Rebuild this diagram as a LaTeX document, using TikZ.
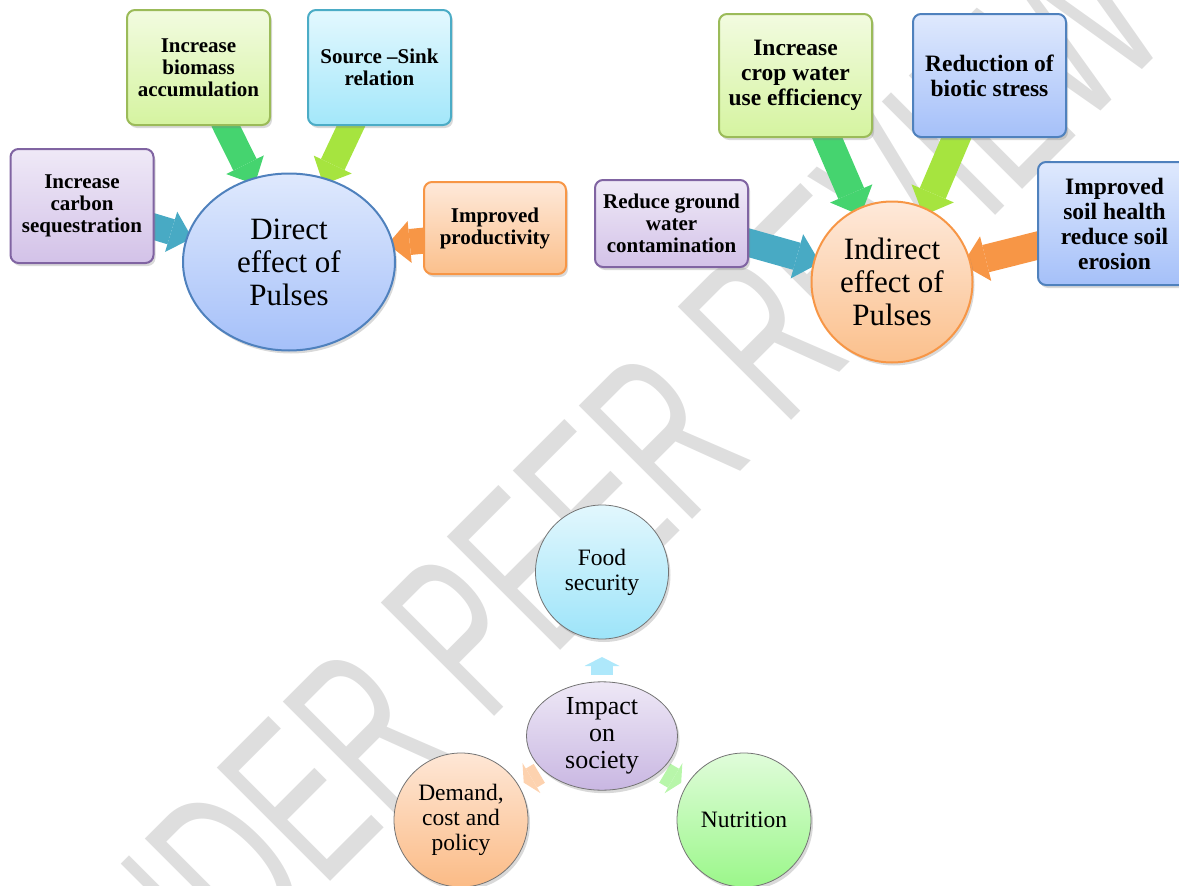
\documentclass[tikz,border=0pt]{standalone}
\usepackage{fontspec}
\setmainfont{Liberation Serif}
\newfontfamily\markfont{Liberation Sans}
\usetikzlibrary{arrows.meta,shapes.geometric,shadows,positioning}
\pgfdeclarelayer{bg}
\pgfsetlayers{bg,main}
\definecolor{purpleline}{HTML}{8064A2}\definecolor{purpletop}{HTML}{EFE9F7}\definecolor{purplebot}{HTML}{D3C2E8}
\definecolor{greenline}{HTML}{9BBB59}\definecolor{greentop}{HTML}{F2FBE0}\definecolor{greenbot}{HTML}{D5F4A0}
\definecolor{cyanline}{HTML}{4BACC6}\definecolor{cyantop}{HTML}{E3F8FE}\definecolor{cyanbot}{HTML}{A3E7FA}
\definecolor{orangeline}{HTML}{F79646}\definecolor{orangetop}{HTML}{FEE9DA}\definecolor{orangebot}{HTML}{FBC08C}
\definecolor{blueline}{HTML}{4F81BD}\definecolor{bluetop}{HTML}{DFE9FD}\definecolor{bluebot}{HTML}{A5C0F9}
\definecolor{arrgreen}{HTML}{45D46F}\definecolor{arrlime}{HTML}{A6E43F}
\definecolor{arrteal}{HTML}{48AAC4}\definecolor{arrorange}{HTML}{F79646}
\definecolor{foodtop}{HTML}{E2F7FD}\definecolor{foodbot}{HTML}{9DE4F9}
\definecolor{impacttop}{HTML}{EEE8F6}\definecolor{impactbot}{HTML}{C9B7E2}
\definecolor{demandtop}{HTML}{FEE7D6}\definecolor{demandbot}{HTML}{FBBB86}
\definecolor{nutrtop}{HTML}{E0FCDA}\definecolor{nutrbot}{HTML}{9BF78A}
\definecolor{upcyan}{HTML}{AEE8FB}\definecolor{peach}{HTML}{FDD2AF}\definecolor{mint}{HTML}{B8F6AA}

\begin{document}
\begin{tikzpicture}[x=1pt,y=-1pt,
  shade/.style={drop shadow={opacity=0.3,shadow xshift=2pt,shadow yshift=-3pt}},
  box/.style={shade,draw,line width=2pt,rounded corners=8pt,align=center,inner sep=2pt,
    minimum width=143pt,minimum height=115pt,font=\bfseries\fontsize{21}{22}\selectfont},
  bigbox/.style={box,minimum width=153pt,minimum height=123pt,font=\bfseries\fontsize{23.5}{25}\selectfont},
  pulse/.style={shade,ellipse,draw,line width=2pt,align=center,inner sep=0pt,font=\fontsize{31}{33}\selectfont},
  ring/.style={shade,ellipse,draw=black!55,line width=0.8pt,align=center,inner sep=0pt,
    minimum width=134pt,minimum height=134pt,font=\fontsize{23.5}{25}\selectfont},
  blk/.style={line width=26pt,shorten <=-6pt,-{Triangle[width=42pt,length=22pt,line width=0pt]}},
  bigblk/.style={line width=28pt,shorten <=-6pt,-{Triangle[width=46pt,length=24pt,line width=0pt]}},
  tiny/.style={line width=22pt,-{Triangle[width=35pt,length=9pt,line width=0pt]}}]
\useasboundingbox (0,0) rectangle (1179,886);

\node [box,draw=purpleline,top color=purpletop,bottom color=purplebot,minimum height=114pt] (carbon) at (82,206) {Increase\\carbon\\sequestration};
\node [box,draw=greenline,top color=greentop,bottom color=greenbot] (biomass) at (198.5,67.5) {Increase\\biomass\\accumulation};
\node [box,draw=cyanline,top color=cyantop,bottom color=cyanbot] (sink) at (379.5,67.5) {Source --Sink\\relation};
\node [box,draw=orangeline,top color=orangetop,bottom color=orangebot,minimum height=92pt,minimum width=142pt] (prod) at (495,228) {Improved\\productivity};
\node [pulse,draw=blueline,top color=bluetop,bottom color=bluebot,minimum width=212pt,minimum height=177pt] (direct) at (289,262) {Direct\\effect of\\Pulses};

\node [box,draw=purpleline,top color=purpletop,bottom color=purplebot,minimum width=153pt,minimum height=87pt] (ground) at (671.5,223.5) {Reduce ground\\water\\contamination};
\node [bigbox,draw=greenline,top color=greentop,bottom color=greenbot] (cropwater) at (795.5,75.5) {Increase\\crop water\\use efficiency};
\node [bigbox,draw=blueline,top color=bluetop,bottom color=bluebot] (biotic) at (989.5,75.5) {Reduction of\\biotic stress};
\node [bigbox,draw=blueline,top color=bluetop,bottom color=bluebot] (soil) at (1114.5,223.5) {Improved\\soil health\\reduce soil\\erosion};
\node [pulse,draw=orangeline,top color=orangetop,bottom color=orangebot,minimum width=161pt,minimum height=161pt] (indirect) at (892,282) {Indirect\\effect of\\Pulses};

\node [ring,top color=foodtop,bottom color=foodbot,minimum width=133pt] (food) at (602,572) {Food\\security};
\node [ring,top color=impacttop,bottom color=impactbot,minimum width=151pt,minimum height=107pt,font=\fontsize{26}{27}\selectfont] (impact) at (602,736) {Impact\\on\\society};
\node [ring,top color=demandtop,bottom color=demandbot] (demand) at (461,820) {Demand,\\cost and\\policy};
\node [ring,top color=nutrtop,bottom color=nutrbot] (nutrition) at (744,820) {Nutrition};

\begin{pgfonlayer}{bg}
\node [text=black!13,font=\markfont\fontsize{233}{233}\selectfont,rotate=45,xscale=0.6,transform shape] (stamp) at (585,515) {UNDER PEER REVIEW};
\draw [blk,draw=arrteal,shorten >=-6pt] (carbon.-16) -- (direct.166);
\draw [blk,draw=arrgreen,shorten >=-7pt] (biomass.-65) -- (direct.114);
\draw [blk,draw=arrlime,shorten >=-7pt] (sink.-116) -- (direct.66);
\draw [blk,draw=arrorange,shorten >=-6pt] (prod.190) -- (direct.10);
\draw [bigblk,draw=arrteal,shorten >=-7pt] (ground.-14) -- (indirect.165);
\draw [bigblk,draw=arrgreen,shorten >=-8pt] (cropwater.-63) -- (indirect.115);
\draw [bigblk,draw=arrlime,shorten >=-8pt] (biotic.-118) -- (indirect.65);
\draw [bigblk,draw=arrorange,shorten >=-9pt] (soil.196) -- (indirect.14);
\draw [tiny,draw=upcyan,shorten <=61pt,shorten >=85pt] (impact.center) -- (food.center);
\draw [tiny,draw=peach,shorten <=73pt,shorten >=73pt] (impact.center) -- (demand.center);
\draw [tiny,draw=mint,shorten <=73pt,shorten >=73pt] (impact.center) -- (nutrition.center);
\end{pgfonlayer}
\end{tikzpicture}
\end{document}
